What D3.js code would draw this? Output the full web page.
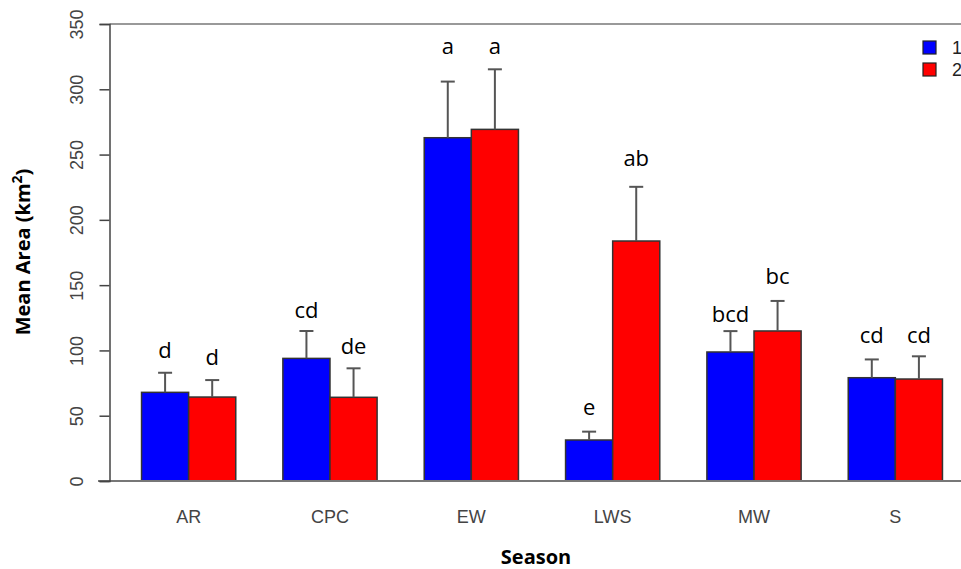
<!DOCTYPE html>
<html>
<head>
<meta charset="utf-8">
<script src="https://cdn.jsdelivr.net/npm/d3@7"></script>
<style>
    body { margin: 0; background: #fff; }
    svg { display: block; }
</style>
</head>
<body>
<div id="chart"></div>
<script>
// Data
const seasons = ['AR', 'CPC', 'EW', 'LWS', 'MW', 'S'];
const groups = ['1', '2'];
const mean1 = [67.9, 93.9, 262.9, 31.4, 98.8, 79.1];
const mean2 = [64.3, 64.1, 269.3, 183.8, 114.9, 78.1];
const se1 = [15, 21, 43, 6.4, 16, 14];
const se2 = [13, 22.2, 46, 41.5, 23, 17.4];
const letters1 = ['d', 'cd', 'a', 'e', 'bcd', 'cd'];
const letters2 = ['d', 'de', 'a', 'ab', 'bc', 'cd'];
// height (in y units) where each letter was placed
const letterAt1 = [94, 124.6, 327, 50.5, 122, 105.4];
const letterAt2 = [88.8, 97.2, 327, 241, 150.8, 105.4];
const yTicks = [0, 50, 100, 150, 200, 250, 300, 350];
const colors = ['#0000ff', '#ff0000'];

const width = 961, height = 569;

const svg = d3.select('#chart').append('svg')
    .attr('width', width)
    .attr('height', height);

// barplot units: each group takes 3 units (gap of 1 then two bars)
const x = d3.scaleLinear().domain([0.32, 18.68]).range([109.5, 974.5]);
const y = d3.scaleLinear().domain([0, 350]).range([481, 24]);

// bars as flat list
const bars = [];
seasons.forEach((s, i) => {
    bars.push({ s, i, g: 0, v: mean1[i], se: se1[i], lab: letters1[i], ly: letterAt1[i] });
    bars.push({ s, i, g: 1, v: mean2[i], se: se2[i], lab: letters2[i], ly: letterAt2[i] });
});
const left = d => 1 + 3 * d.i + d.g;

// plot box (top line)
svg.append('line')
    .attr('x1', x(0.32)).attr('x2', width)
    .attr('y1', y(350)).attr('y2', y(350))
    .attr('stroke', '#777').attr('stroke-width', 1.5);

svg.append('g').selectAll('rect').data(bars).join('rect')
    .attr('x', d => x(left(d)))
    .attr('y', d => y(d.v))
    .attr('width', d => x(left(d) + 1) - x(left(d)))
    .attr('height', d => y(0) - y(d.v))
    .attr('fill', d => colors[d.g])
    .attr('stroke', '#333')
    .attr('stroke-width', 1.5);

svg.append('line')
    .attr('x1', 98).attr('x2', width)
    .attr('y1', y(0)).attr('y2', y(0))
    .attr('stroke', '#777').attr('stroke-width', 2);

// error bars
const err = svg.append('g').attr('stroke', '#555').attr('stroke-width', 2);
err.selectAll('line.stem').data(bars).join('line')
    .attr('class', 'stem')
    .attr('x1', d => x(left(d) + 0.5)).attr('x2', d => x(left(d) + 0.5))
    .attr('y1', d => y(d.v)).attr('y2', d => y(d.v + d.se));
err.selectAll('line.cap').data(bars).join('line')
    .attr('class', 'cap')
    .attr('x1', d => x(left(d) + 0.5) - 7).attr('x2', d => x(left(d) + 0.5) + 7)
    .attr('y1', d => y(d.v + d.se)).attr('y2', d => y(d.v + d.se));

// significance letters
svg.append('g').selectAll('text').data(bars).join('text')
    .attr('x', d => x(left(d) + 0.5))
    .attr('y', d => y(d.ly))
    .attr('text-anchor', 'middle')
    .attr('font-family', '"Open Sans", sans-serif')
    .attr('font-size', 22)
    .attr('fill', '#000')
    .text(d => d.lab);

// y axis
const yAxis = svg.append('g').attr('transform', `translate(${x(0.32)},0)`)
    .call(d3.axisLeft(y).tickValues(yTicks).tickSize(10).tickPadding(0).tickFormat(d3.format('d')));
yAxis.select('.domain').attr('stroke', '#444').attr('stroke-width', 1.5);
yAxis.selectAll('.tick line').attr('stroke', '#444').attr('stroke-width', 1.5);
yAxis.selectAll('.tick text')
    .attr('x', 0).attr('y', 0).attr('dy', 0)
    .attr('transform', 'translate(-27,0) rotate(-90)')
    .attr('text-anchor', 'middle')
    .attr('font-family', '"Liberation Sans", Arial, sans-serif')
    .attr('font-size', 18)
    .attr('fill', '#444');

// x category labels
svg.append('g').selectAll('text').data(seasons).join('text')
    .attr('x', (d, i) => x(2 + 3 * i))
    .attr('y', 523)
    .attr('text-anchor', 'middle')
    .attr('font-family', '"Liberation Sans", Arial, sans-serif')
    .attr('font-size', 18)
    .attr('fill', '#444')
    .text(d => d);

// axis titles
svg.append('text')
    .attr('x', 536).attr('y', 564)
    .attr('text-anchor', 'middle')
    .attr('font-family', '"Open Sans", sans-serif')
    .attr('font-weight', 'bold')
    .attr('font-size', 20)
    .text('Season');

const yt = svg.append('text')
    .attr('transform', 'translate(29.5,252) rotate(-90)')
    .attr('text-anchor', 'middle')
    .attr('font-family', '"Open Sans", sans-serif')
    .attr('font-weight', 'bold')
    .attr('font-size', 20);
yt.append('tspan').text('Mean Area (km');
yt.append('tspan').attr('dy', -8).attr('font-size', 14).text('2');
yt.append('tspan').attr('dy', 8).text(')');

// legend
const leg = svg.append('g').selectAll('g').data(groups).join('g')
    .attr('transform', (d, i) => `translate(923,${41 + i * 22})`);
leg.append('rect')
    .attr('width', 13).attr('height', 13)
    .attr('fill', (d, i) => colors[i])
    .attr('stroke', '#222').attr('stroke-width', 1.2);
leg.append('text')
    .attr('x', 29).attr('y', 13)
    .attr('font-family', '"Liberation Sans", Arial, sans-serif')
    .attr('font-size', 18)
    .attr('fill', '#222')
    .text(d => d);
</script>
</body>
</html>
